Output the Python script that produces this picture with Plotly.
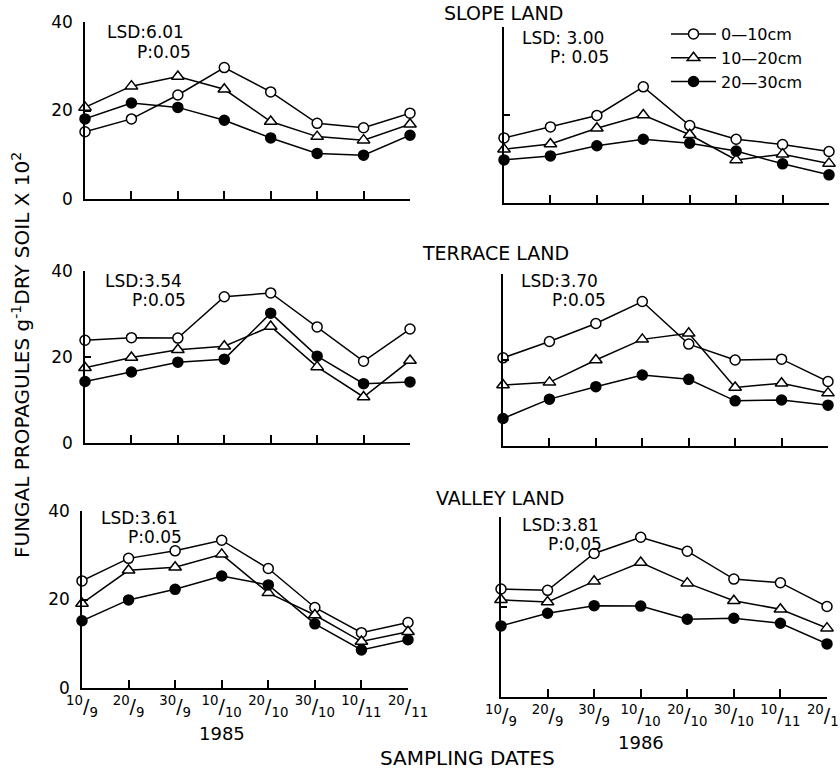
import plotly.graph_objects as go

W, H = 840, 770

dates = ["10/9", "20/9", "30/9", "10/10", "20/10", "30/10", "10/11", "20/11"]
date_labels = ["<sup>10</sup>/<sub>9</sub>", "<sup>20</sup>/<sub>9</sub>", "<sup>30</sup>/<sub>9</sub>",
               "<sup>10</sup>/<sub>10</sub>", "<sup>20</sup>/<sub>10</sub>", "<sup>30</sup>/<sub>10</sub>",
               "<sup>10</sup>/<sub>11</sub>", "<sup>20</sup>/<sub>11</sub>"]
depths = ["0\u201410cm", "10\u201420cm", "20\u201430cm"]
years = ["1985", "1986"]
lands = ["SLOPE LAND", "TERRACE LAND", "VALLEY LAND"]

slope_1985_0_10 = [15.2, 18.1, 23.5, 29.7, 24.2, 17.1, 16.1, 19.4]
slope_1985_10_20 = [20.7, 25.5, 27.7, 24.8, 17.5, 14.1, 13.3, 16.9]
slope_1985_20_30 = [18.1, 21.7, 20.7, 17.8, 13.8, 10.3, 9.9, 14.4]
slope_1986_0_10 = [14.8, 17.3, 19.9, 26.4, 17.6, 14.5, 13.3, 11.7]
slope_1986_10_20 = [12.2, 13.4, 17.0, 20.0, 15.5, 9.8, 11.1, 9.0]
slope_1986_20_30 = [9.8, 10.7, 13.0, 14.5, 13.6, 11.8, 8.9, 6.4]
terrace_1985_0_10 = [23.9, 24.5, 24.4, 34.0, 34.9, 27.0, 19.0, 26.5]
terrace_1985_10_20 = [17.5, 19.9, 21.7, 22.5, 27.1, 17.7, 10.7, 19.2]
terrace_1985_20_30 = [14.3, 16.5, 18.8, 19.5, 30.2, 20.2, 13.8, 14.2]
terrace_1986_0_10 = [20.5, 24.3, 28.5, 33.6, 23.7, 20.0, 20.2, 15.0]
terrace_1986_10_20 = [14.2, 14.8, 20.0, 24.8, 26.2, 13.6, 14.6, 12.3]
terrace_1986_20_30 = [6.4, 10.9, 13.8, 16.5, 15.5, 10.5, 10.7, 9.5]
valley_1985_0_10 = [24.2, 29.3, 31.0, 33.4, 27.0, 18.2, 12.5, 14.8]
valley_1985_10_20 = [19.1, 26.6, 27.3, 30.2, 21.5, 16.5, 10.5, 12.7]
valley_1985_20_30 = [15.2, 19.9, 22.3, 25.3, 23.3, 14.5, 8.6, 10.9]
valley_1986_0_10 = [24.0, 23.7, 31.9, 35.5, 32.4, 26.2, 25.4, 20.1]
valley_1986_10_20 = [21.6, 21.1, 25.7, 29.9, 25.3, 21.4, 19.5, 15.3]
valley_1986_20_30 = [15.8, 18.6, 20.3, 20.2, 17.3, 17.5, 16.4, 11.8]

lsd_labels = ["LSD:6.01", "LSD: 3.00", "LSD:3.54", "LSD:3.70", "LSD:3.61", "LSD:3.81"]
p_labels = ["P:0.05", "P: 0.05", "P:0.05", "P:0.05", "P:0.05", "P:0,05"]

panels = [
    [slope_1985_0_10, slope_1985_10_20, slope_1985_20_30],
    [slope_1986_0_10, slope_1986_10_20, slope_1986_20_30],
    [terrace_1985_0_10, terrace_1985_10_20, terrace_1985_20_30],
    [terrace_1986_0_10, terrace_1986_10_20, terrace_1986_20_30],
    [valley_1985_0_10, valley_1985_10_20, valley_1985_20_30],
    [valley_1986_0_10, valley_1986_10_20, valley_1986_20_30],
]

# panel boxes in pixels: x0, x1, ytop(40), ybottom(0)
boxes = [
    (85, 410, 22, 199),
    (504, 829, 27, 203),
    (85, 410, 271, 443),
    (503, 828, 274, 446),
    (82, 408, 511, 688),
    (501, 827, 517, 697),
]
# annotation positions (px): lsd (x, y), p (x, y)
lsd_pos = [(105, 32), (520, 38), (103, 281), (519, 281), (99, 518), (520, 525)]
p_pos = [(135, 52), (548, 57), (130, 300), (550, 300), (126, 537), (546, 544)]

FONT = "DejaVu Sans"
styles = [
    dict(symbol="circle", color="white", size=10, line=dict(color="black", width=1.5)),
    dict(symbol="triangle-up", color="white", size=11, line=dict(color="black", width=1.5)),
    dict(symbol="circle", color="black", size=10, line=dict(color="black", width=1.5)),
]

fig = go.Figure()
layout = dict(width=W, height=H, margin=dict(l=0, r=0, t=0, b=0, autoexpand=False),
              paper_bgcolor="white", plot_bgcolor="white",
              font=dict(family=FONT, size=15, color="black"), showlegend=True)

annotations = []
for i, series in enumerate(panels):
    ax = "" if i == 0 else str(i + 1)
    x0, x1, yt, yb = boxes[i]
    for s, vals in enumerate(series):
        fig.add_trace(go.Scatter(
            x=dates, y=vals, mode="lines+markers", name=depths[s],
            xaxis="x" + ax, yaxis="y" + ax,
            line=dict(color="black", width=1.5),
            marker=styles[s], cliponaxis=False,
            showlegend=(i == 0)))
    bottom = i >= 4
    left = i % 2 == 0
    layout["xaxis" + ax] = dict(
        domain=[x0 / W, x1 / W], anchor="y" + ax, type="category",
        categoryorder="array", categoryarray=dates, automargin=False,
        range=[0, len(dates) - 1], showline=True, linecolor="black", linewidth=1.5,
        ticks="inside", ticklen=8, tickwidth=1.5, tickcolor="black",
        tickvals=dates, ticktext=date_labels, showticklabels=bottom,
        tickfont=dict(size=19, family=FONT), showgrid=False, zeroline=False, fixedrange=True)
    layout["yaxis" + ax] = dict(
        domain=[1 - yb / H, 1 - yt / H], anchor="x" + ax, range=[0, 40], automargin=False,
        showline=True, linecolor="black", linewidth=1.5,
        ticks="inside", ticklen=6, tickwidth=1.5, tickcolor="black",
        tickvals=[0, 20, 40], showticklabels=left, ticklabelstandoff=7,
        tickfont=dict(size=17, family=FONT), showgrid=False, zeroline=False, fixedrange=True)
    lx, ly = lsd_pos[i]
    px, py = p_pos[i]
    annotations.append(dict(text=lsd_labels[i], x=lx / W, y=1 - ly / H, xref="paper", yref="paper",
                            xanchor="left", yanchor="middle", showarrow=False, font=dict(size=17)))
    annotations.append(dict(text=p_labels[i], x=px / W, y=1 - py / H, xref="paper", yref="paper",
                            xanchor="left", yanchor="middle", showarrow=False, font=dict(size=17)))

title_pos = [(503, 13), (495, 253), (500, 498)]
for t, (tx, ty) in zip(lands, title_pos):
    annotations.append(dict(text=t, x=tx / W, y=1 - ty / H, xref="paper", yref="paper",
                            xanchor="center", yanchor="middle", showarrow=False, font=dict(size=19)))

year_pos = [("x5", 733), ("x6", 742)]
for yr, (xr, yy) in zip(years, year_pos):
    annotations.append(dict(text=yr, x=dates[3], y=1 - yy / H, xref=xr, yref="paper",
                            xanchor="center", yanchor="middle", showarrow=False, font=dict(size=18)))

annotations.append(dict(text="SAMPLING DATES", x=467 / W, y=1 - 758 / H, xref="paper", yref="paper",
                        xanchor="center", yanchor="middle", showarrow=False, font=dict(size=20)))
annotations.append(dict(text="FUNGAL PROPAGULES g<sup>-1</sup>DRY SOIL X 10<sup>2</sup>",
                        x=21 / W, y=1 - 355 / H, xref="paper", yref="paper", textangle=-90,
                        xanchor="center", yanchor="middle", showarrow=False, font=dict(size=20)))

layout["annotations"] = annotations
layout["legend"] = dict(x=666 / W, y=1 - 17 / H, xanchor="left", yanchor="top",
                        bgcolor="rgba(0,0,0,0)", font=dict(size=16, family=FONT),
                        itemwidth=45, tracegroupgap=0)
fig.update_layout(**layout)
fig.write_html("out.html", config={"displayModeBar": False},
               post_script="document.body.style.margin='0px';document.body.style.overflow='hidden';")
